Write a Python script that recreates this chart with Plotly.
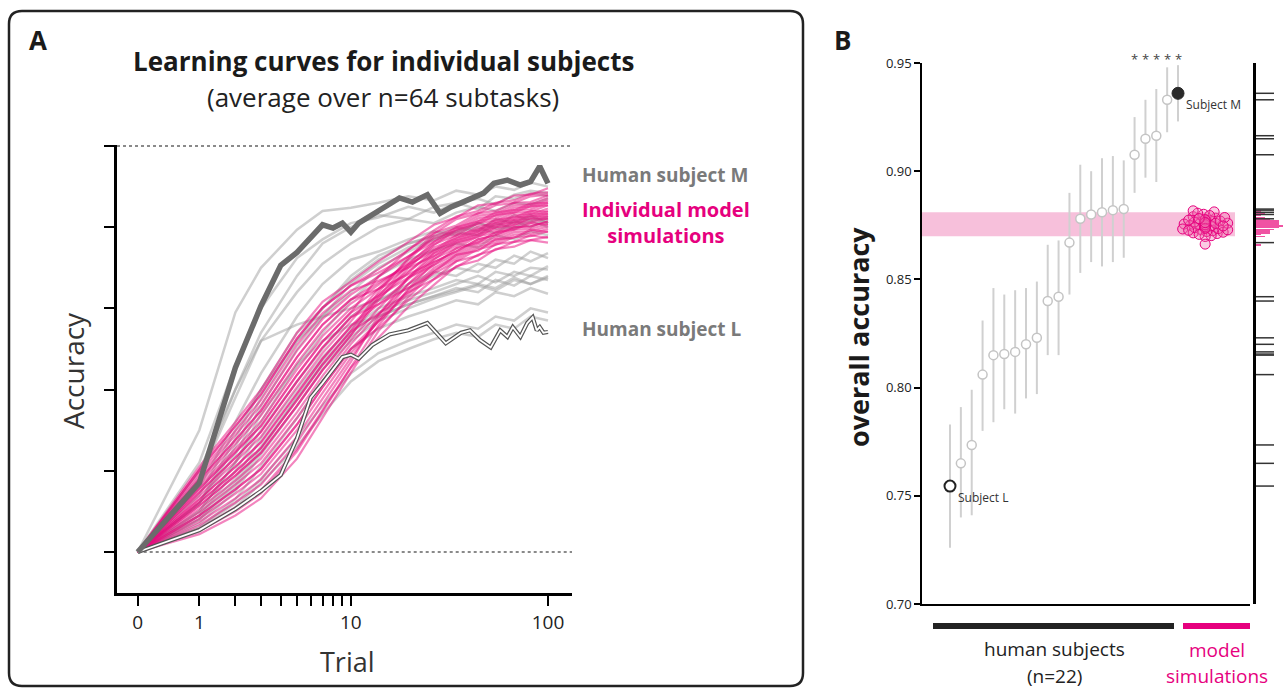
import numpy as np
import plotly.graph_objects as go

W, H = 1283, 688
PINK = "#E6007E"
FONT = "Open Sans"

# ---------------- Panel A data (accuracy per mille) ----------------
trial_grid = [0, 1, 2, 3, 5, 7, 10, 14, 20, 27, 35, 45, 55, 68, 82, 100]

human_curves = [
    [500, 650, 795, 850, 897, 920, 924, 930, 938, 933, 945, 940, 950, 946, 955, 950],
    [500, 610, 730, 800, 862, 885, 905, 912, 925, 918, 930, 935, 928, 940, 945, 942],
    [500, 600, 700, 770, 840, 880, 900, 915, 910, 925, 930, 922, 938, 935, 942, 938],
    [500, 590, 690, 760, 820, 855, 880, 900, 910, 905, 918, 925, 920, 930, 928, 935],
    [500, 580, 660, 720, 790, 830, 860, 870, 885, 895, 890, 905, 900, 915, 908, 912],
    [500, 570, 650, 700, 770, 800, 840, 865, 880, 890, 900, 895, 910, 905, 915, 905],
    [500, 590, 700, 760, 780, 790, 820, 850, 870, 885, 895, 900, 892, 908, 900, 910],
    [500, 560, 630, 690, 760, 800, 835, 860, 880, 888, 895, 905, 898, 900, 912, 905],
    [500, 560, 620, 680, 750, 790, 830, 855, 875, 885, 893, 890, 905, 898, 908, 900],
    [500, 550, 610, 660, 730, 770, 810, 840, 860, 872, 880, 875, 890, 885, 895, 890],
    [500, 560, 640, 700, 760, 790, 800, 810, 825, 840, 850, 845, 860, 855, 870, 862],
    [500, 545, 600, 650, 710, 750, 790, 810, 830, 845, 840, 855, 850, 865, 858, 868],
    [500, 545, 590, 640, 700, 740, 775, 800, 815, 825, 835, 830, 845, 840, 850, 848],
    [500, 540, 585, 630, 690, 735, 770, 795, 810, 820, 830, 840, 832, 845, 840, 852],
    [500, 550, 610, 670, 730, 760, 780, 790, 805, 815, 825, 820, 835, 828, 840, 835],
    [500, 540, 580, 625, 690, 730, 765, 790, 805, 815, 822, 830, 825, 838, 830, 840],
    [500, 535, 575, 620, 680, 725, 760, 785, 800, 812, 820, 828, 822, 835, 830, 838],
    [500, 530, 565, 605, 665, 710, 750, 775, 790, 800, 810, 805, 820, 815, 825, 818],
    [500, 530, 560, 590, 640, 680, 720, 745, 760, 770, 780, 775, 790, 785, 800, 795],
    [500, 525, 555, 585, 630, 670, 710, 735, 750, 762, 770, 765, 780, 775, 790, 785],
]

model_curves = [
    [500, 522, 545, 566, 615, 665, 721, 772, 814, 845, 866, 871, 885, 887, 897, 894],
    [500, 601, 655, 694, 763, 801, 828, 848, 872, 893, 902, 917, 920, 930, 931, 939],
    [500, 545, 577, 602, 657, 703, 750, 776, 810, 836, 851, 866, 872, 882, 884, 888],
    [500, 577, 622, 655, 718, 759, 795, 839, 872, 896, 913, 920, 930, 933, 941, 943],
    [500, 565, 605, 635, 695, 738, 778, 805, 836, 861, 874, 889, 893, 903, 905, 911],
    [500, 533, 561, 583, 635, 682, 734, 791, 838, 868, 887, 894, 906, 909, 917, 916],
    [500, 589, 638, 674, 740, 780, 811, 824, 842, 857, 870, 885, 890, 900, 901, 907],
    [500, 605, 660, 700, 770, 808, 833, 858, 882, 903, 912, 927, 929, 939, 940, 948],
    [500, 557, 594, 622, 680, 724, 767, 810, 850, 878, 897, 904, 915, 918, 926, 927],
    [500, 581, 627, 661, 725, 766, 800, 824, 852, 875, 886, 901, 905, 915, 916, 923],
    [500, 541, 572, 596, 650, 696, 745, 784, 822, 850, 864, 879, 884, 894, 895, 901],
    [500, 573, 616, 648, 710, 752, 789, 805, 826, 843, 858, 873, 878, 888, 889, 895],
    [500, 526, 550, 572, 624, 673, 727, 764, 802, 829, 852, 859, 873, 876, 884, 881],
    [500, 593, 644, 681, 748, 787, 817, 839, 864, 886, 896, 911, 914, 924, 925, 933],
    [500, 553, 588, 615, 672, 717, 761, 800, 838, 864, 884, 891, 903, 906, 914, 913],
    [500, 569, 611, 642, 703, 745, 784, 824, 860, 889, 899, 914, 917, 927, 928, 936],
    [500, 549, 583, 609, 665, 710, 756, 793, 830, 853, 874, 881, 894, 897, 905, 903],
    [500, 585, 633, 668, 733, 773, 806, 829, 856, 879, 890, 905, 908, 918, 919, 927],
    [500, 537, 566, 589, 642, 689, 739, 786, 830, 860, 881, 888, 900, 903, 911, 910],
    [500, 597, 649, 687, 755, 794, 822, 834, 850, 864, 877, 892, 896, 906, 907, 914],
    [500, 561, 599, 628, 687, 731, 772, 820, 862, 892, 910, 917, 927, 930, 938, 940],
    [500, 565, 605, 635, 695, 738, 778, 812, 844, 872, 883, 898, 902, 912, 913, 920],
    [500, 577, 622, 655, 718, 759, 795, 815, 838, 854, 867, 882, 887, 897, 898, 904],
    [500, 557, 594, 622, 680, 724, 767, 815, 854, 882, 900, 907, 918, 921, 929, 930],
    [500, 589, 638, 674, 740, 780, 811, 832, 854, 871, 890, 897, 909, 912, 920, 919],
    [500, 545, 577, 602, 657, 703, 750, 784, 818, 847, 861, 876, 881, 891, 892, 898],
    [500, 601, 655, 694, 763, 801, 828, 844, 864, 882, 893, 908, 911, 921, 922, 930],
    [500, 529, 555, 576, 627, 675, 728, 779, 824, 857, 870, 885, 890, 900, 901, 907],
    [500, 573, 616, 648, 710, 752, 789, 817, 846, 868, 880, 895, 899, 909, 910, 917],
    [500, 561, 599, 628, 687, 731, 772, 793, 820, 836, 858, 865, 879, 882, 890, 887],
]

M_trials = [0, 1, 2, 3, 4, 5, 7, 8, 9, 10, 11, 13, 15, 18, 21, 25, 29, 33, 37, 43,
            48, 54, 63, 73, 82, 91, 97, 100]
M_acc = [0.500, 0.585, 0.727, 0.803, 0.853, 0.869, 0.903, 0.899, 0.905, 0.894, 0.905,
         0.915, 0.925, 0.936, 0.931, 0.940, 0.917, 0.925, 0.930, 0.937, 0.942, 0.954,
         0.958, 0.952, 0.956, 0.975, 0.962, 0.954]

L_trials = [0, 1, 2, 3, 4, 5, 6, 7, 9, 10, 11, 13, 16, 20, 25, 29, 31, 37, 41, 46, 52,
            58, 63, 67, 73, 79, 84, 88, 91, 95, 100]
L_acc = [0.500, 0.527, 0.553, 0.575, 0.595, 0.640, 0.690, 0.708, 0.740, 0.743, 0.738,
         0.755, 0.768, 0.773, 0.782, 0.765, 0.757, 0.770, 0.773, 0.761, 0.752, 0.773,
         0.765, 0.777, 0.765, 0.782, 0.789, 0.773, 0.777, 0.770, 0.771]

x_tick_trials = [0, 1, 2, 3, 4, 5, 6, 7, 8, 9, 10, 100]
x_tick_text = ["0", "1", "", "", "", "", "", "", "", "", "10", "100"]
y_tick_vals_A = [0.5, 0.6, 0.7, 0.8, 0.9, 1.0]

# ---------------- Panel B data ----------------
subject_acc = [0.7545, 0.765, 0.7735, 0.806, 0.815, 0.8155, 0.8165, 0.820, 0.823, 0.840, 0.842,
               0.867, 0.878, 0.880, 0.881, 0.882, 0.8825, 0.9076, 0.915, 0.9164, 0.933, 0.936]
subject_lo = [0.726, 0.740, 0.741, 0.780, 0.784, 0.790, 0.788, 0.795, 0.797, 0.815, 0.815,
              0.843, 0.853, 0.858, 0.856, 0.858, 0.860, 0.890, 0.897, 0.895, 0.918, 0.923]
subject_hi = [0.783, 0.791, 0.799, 0.831, 0.846, 0.843, 0.845, 0.846, 0.849, 0.866, 0.868,
              0.890, 0.903, 0.900, 0.906, 0.907, 0.905, 0.925, 0.933, 0.938, 0.948, 0.949]
significant = [18, 19, 20, 21, 22]

model_acc = [0.8745, 0.8762, 0.8731, 0.8778, 0.8712, 0.8755, 0.8790, 0.8740, 0.8768, 0.8725,
             0.8801, 0.8750, 0.8735, 0.8772, 0.8718, 0.8760, 0.8745, 0.8783, 0.8729, 0.8812,
             0.8756, 0.8741, 0.8766, 0.8702, 0.8774, 0.8748, 0.8737, 0.8795, 0.8721, 0.8759,
             0.8744, 0.8770, 0.8733, 0.8806, 0.8752, 0.8715, 0.8764, 0.8739, 0.8786, 0.8727,
             0.8753, 0.8698, 0.8775, 0.8747, 0.8817, 0.8736, 0.8762, 0.8708, 0.8781, 0.8663]
y_tick_vals_B = [0.70, 0.75, 0.80, 0.85, 0.90, 0.95]

# ---------------- helpers ----------------
def px(x):
    return x / W

def py(y):
    return 1 - y / H

def tx(t):
    return np.log10(np.asarray(t, dtype=float) + 1)

fig = go.Figure()

# ---------------- Panel A traces ----------------
for c in human_curves:
    fig.add_trace(go.Scatter(x=tx(trial_grid), y=np.array(c) / 1000, mode="lines",
                             line=dict(color="rgba(160,160,160,0.5)", width=2.5),
                             xaxis="x", yaxis="y", hoverinfo="skip", showlegend=False))
for c in model_curves:
    fig.add_trace(go.Scatter(x=tx(trial_grid), y=np.array(c) / 1000, mode="lines",
                             line=dict(color="rgba(232,10,125,0.5)", width=2.2),
                             xaxis="x", yaxis="y", hoverinfo="skip", showlegend=False))
fig.add_trace(go.Scatter(x=tx(L_trials), y=L_acc, mode="lines",
                         line=dict(color="#555555", width=4.2),
                         xaxis="x", yaxis="y", hoverinfo="skip", showlegend=False))
fig.add_trace(go.Scatter(x=tx(L_trials), y=L_acc, mode="lines",
                         line=dict(color="white", width=1.8),
                         xaxis="x", yaxis="y", hoverinfo="skip", showlegend=False))
fig.add_trace(go.Scatter(x=tx(M_trials), y=M_acc, mode="lines",
                         line=dict(color="#6b6b6b", width=5.5),
                         xaxis="x", yaxis="y", hoverinfo="skip", showlegend=False))

# ---------------- Panel B traces ----------------
n_sub = len(subject_acc)
ranks = np.arange(1, n_sub + 1)
acc = np.array(subject_acc)
lo = np.array(subject_lo)
hi = np.array(subject_hi)

x2_range = [-1.579, 28.63]
y2_range = [0.70, 0.95]
x2_px = (1250 - 922) / (x2_range[1] - x2_range[0])
y2_px = (604 - 63) / (y2_range[1] - y2_range[0])

fig.add_trace(go.Scatter(
    x=ranks, y=acc, mode="markers",
    error_y=dict(type="data", symmetric=False, array=hi - acc, arrayminus=acc - lo,
                 color="#d0d0d0", thickness=2, width=0),
    marker=dict(size=9, color="white", line=dict(color="#c4c4c4", width=1.5)),
    xaxis="x2", yaxis="y2", hoverinfo="skip", showlegend=False))
fig.add_trace(go.Scatter(
    x=[ranks[0]], y=[acc[0]], mode="markers",
    marker=dict(size=11, color="white", line=dict(color="#222222", width=2)),
    xaxis="x2", yaxis="y2", hoverinfo="skip", showlegend=False))
fig.add_trace(go.Scatter(
    x=[ranks[-1]], y=[acc[-1]], mode="markers",
    marker=dict(size=12, color="#2a2a2a", line=dict(color="#2a2a2a", width=1)),
    xaxis="x2", yaxis="y2", hoverinfo="skip", showlegend=False))

# beeswarm layout for model simulations
model_pos = n_sub + 2.5
mvals = np.array(model_acc)
xs = np.zeros(len(mvals))
placed = []
min_d = 5.0
for i in np.argsort(mvals):
    v = mvals[i]
    chosen = None
    for k in range(0, 16):
        for sgn in ([0] if k == 0 else [1, -1]):
            off = sgn * k * 1.5
            ok = all((off - ox) ** 2 + ((v - ov) * y2_px) ** 2 >= min_d ** 2 for ox, ov in placed)
            if ok:
                chosen = off
                break
        if chosen is not None:
            break
    if chosen is None:
        chosen = 0.0
    placed.append((chosen, v))
    xs[i] = model_pos + chosen / x2_px

fig.add_trace(go.Scatter(
    x=xs, y=mvals, mode="markers",
    marker=dict(size=10, color="rgba(240,110,175,0.35)", line=dict(color=PINK, width=1)),
    xaxis="x2", yaxis="y2", hoverinfo="skip", showlegend=False))

band_lo, band_hi = np.percentile(mvals, [2.5, 97.5])

# rug / histogram on the right
edges = np.arange(0.8655, 0.8830, 0.0008)
counts, edges = np.histogram(mvals, bins=edges)
centers = (edges[:-1] + edges[1:]) / 2
R = counts.max()
tick_len = R * 18 / 27
rx, ry = [], []
for v in subject_acc:
    rx += [0, tick_len, None]
    ry += [v, v, None]
fig.add_trace(go.Bar(y=centers, x=counts, orientation="h", width=0.0007,
                     marker=dict(color="rgba(236,40,140,0.8)", line=dict(width=0)),
                     xaxis="x3", yaxis="y3", hoverinfo="skip", showlegend=False))
fig.add_trace(go.Scatter(x=rx, y=ry, mode="lines", line=dict(color="#333333", width=1.5),
                         xaxis="x3", yaxis="y3", hoverinfo="skip", showlegend=False))

# ---------------- layout ----------------
xA_range = [(117 - 137.7) / 204.7, (572 - 137.7) / 204.7]
yA_range = [0.5 - 41 / 812, 0.5 + 407 / 812]

axis_common = dict(showgrid=False, zeroline=False, automargin=False)
fig.update_layout(
    width=W, height=H, autosize=False,
    margin=dict(l=0, r=0, t=0, b=0, pad=0, autoexpand=False),
    paper_bgcolor="white", plot_bgcolor="rgba(0,0,0,0)",
    font=dict(family=FONT, color="#222"),
    bargap=0,
    xaxis=dict(domain=[px(117), px(572)], range=xA_range, anchor="y",
               showline=True, linecolor="black", linewidth=2.5,
               ticks="outside", ticklen=10, tickwidth=2, tickcolor="black",
               tickvals=tx(x_tick_trials), ticktext=x_tick_text,
               tickfont=dict(size=19, color="#222", family=FONT), **axis_common),
    yaxis=dict(domain=[py(593), py(145)], range=yA_range, anchor="x",
               showline=True, linecolor="black", linewidth=2.5,
               ticks="outside", ticklen=10, tickwidth=2, tickcolor="black",
               tickvals=y_tick_vals_A, showticklabels=False, **axis_common),
    xaxis2=dict(domain=[px(922), px(1250)], range=x2_range, anchor="y2",
                showline=True, linecolor="black", linewidth=1.5,
                showticklabels=False, ticks="", **axis_common),
    yaxis2=dict(domain=[py(604), py(63)], range=y2_range, anchor="x2",
                showline=True, linecolor="black", linewidth=1.5,
                ticks="outside", ticklen=6, tickwidth=1.5, tickcolor="black",
                tickvals=y_tick_vals_B, tickformat=".2f",
                tickfont=dict(size=13, color="#222", family=FONT), **axis_common),
    xaxis3=dict(domain=[px(1256), 1.0], range=[0, R], anchor="y3", visible=False,
                automargin=False),
    yaxis3=dict(domain=[py(604), py(63)], range=y2_range, anchor="x3",
                showline=True, linecolor="black", linewidth=2.5,
                showticklabels=False, ticks="", **axis_common),
)

# ---------------- shapes ----------------
shapes = []
x0, y0, x1, y1, r = 9, 11, 803, 686, 13
rx_, ry_ = r / W, r / H
X0, X1, Y0, Y1 = px(x0), px(x1), py(y0), py(y1)
path = (f"M {X0+rx_},{Y0} L {X1-rx_},{Y0} Q {X1},{Y0} {X1},{Y0-ry_} "
        f"L {X1},{Y1+ry_} Q {X1},{Y1} {X1-rx_},{Y1} "
        f"L {X0+rx_},{Y1} Q {X0},{Y1} {X0},{Y1+ry_} "
        f"L {X0},{Y0-ry_} Q {X0},{Y0} {X0+rx_},{Y0} Z")
shapes.append(dict(type="path", path=path, xref="paper", yref="paper",
                   line=dict(color="#222", width=2.5)))
x_end = tx(100) + 0.12
shapes.append(dict(type="line", xref="x", yref="y", x0=0, x1=x_end, y0=0.5, y1=0.5,
                   line=dict(color="#8a8a8a", width=2.2, dash="dot"), layer="below"))
shapes.append(dict(type="line", xref="x", yref="y", x0=xA_range[0], x1=x_end, y0=1.0, y1=1.0,
                   line=dict(color="#8a8a8a", width=2.2, dash="dot"), layer="below"))
shapes.append(dict(type="rect", xref="x2 domain", yref="y2", x0=0, x1=(1235 - 922) / 328,
                   y0=band_lo, y1=band_hi, fillcolor="#f7c0db", line=dict(width=0),
                   layer="below"))
shapes.append(dict(type="rect", xref="paper", yref="paper", x0=px(933), x1=px(1174),
                   y0=py(629), y1=py(623), fillcolor="#222", line=dict(width=0)))
shapes.append(dict(type="rect", xref="paper", yref="paper", x0=px(1183), x1=px(1250),
                   y0=py(629), y1=py(623), fillcolor=PINK, line=dict(width=0)))
fig.update_layout(shapes=shapes)

# ---------------- annotations ----------------
ann = []

def add_text(text, x, y, size, color="#222", bold=False, xanchor="center", angle=0):
    t = f"<b>{text}</b>" if bold else text
    ann.append(dict(text=t, x=px(x), y=py(y), xref="paper", yref="paper", showarrow=False,
                    xanchor=xanchor, yanchor="middle", textangle=angle,
                    font=dict(size=size, color=color, family=FONT)))

add_text("A", 38, 40, 26, "#1a1a1a", bold=True)
add_text("B", 842, 40, 26, "#1a1a1a", bold=True)
add_text("Learning curves for individual subjects", 383, 61, 26, "#1a1a1a", bold=True)
add_text("(average over n=64 subtasks)", 383, 97, 26, "#222")
add_text("Trial", 347, 661, 27, "#333")
add_text("Accuracy", 73, 371, 28, "#333", angle=-90)
add_text("Human subject M", 580, 175, 19, "#7a7a7a", bold=True, xanchor="left")
add_text("Individual model<br>simulations", 580, 222, 20, PINK, bold=True, xanchor="left")
add_text("Human subject L", 580, 329, 19, "#7a7a7a", bold=True, xanchor="left")
add_text("overall accuracy", 858, 337, 27, "#1a1a1a", bold=True, angle=-90)
add_text("human subjects", 1054, 649, 19, "#222")
add_text("(n=22)", 1054, 676, 19, "#222")
add_text("model", 1217, 650, 19, PINK)
add_text("simulations", 1217, 676, 19, PINK)

ann.append(dict(text="Subject L", x=ranks[0], y=acc[0], xref="x2", yref="y2", showarrow=False,
                xanchor="left", yanchor="middle", xshift=6, yshift=-11,
                font=dict(size=12, color="#333", family=FONT)))
ann.append(dict(text="Subject M", x=ranks[-1], y=acc[-1], xref="x2", yref="y2", showarrow=False,
                xanchor="left", yanchor="middle", xshift=6, yshift=-11,
                font=dict(size=12, color="#333", family=FONT)))
for s in significant:
    ann.append(dict(text="*", x=s, y=y2_range[1], xref="x2", yref="y2", showarrow=False,
                    xanchor="center", yanchor="middle", yshift=4,
                    font=dict(size=13, color="#444", family=FONT)))

fig.update_layout(annotations=ann)

fig.write_html("out.html")
